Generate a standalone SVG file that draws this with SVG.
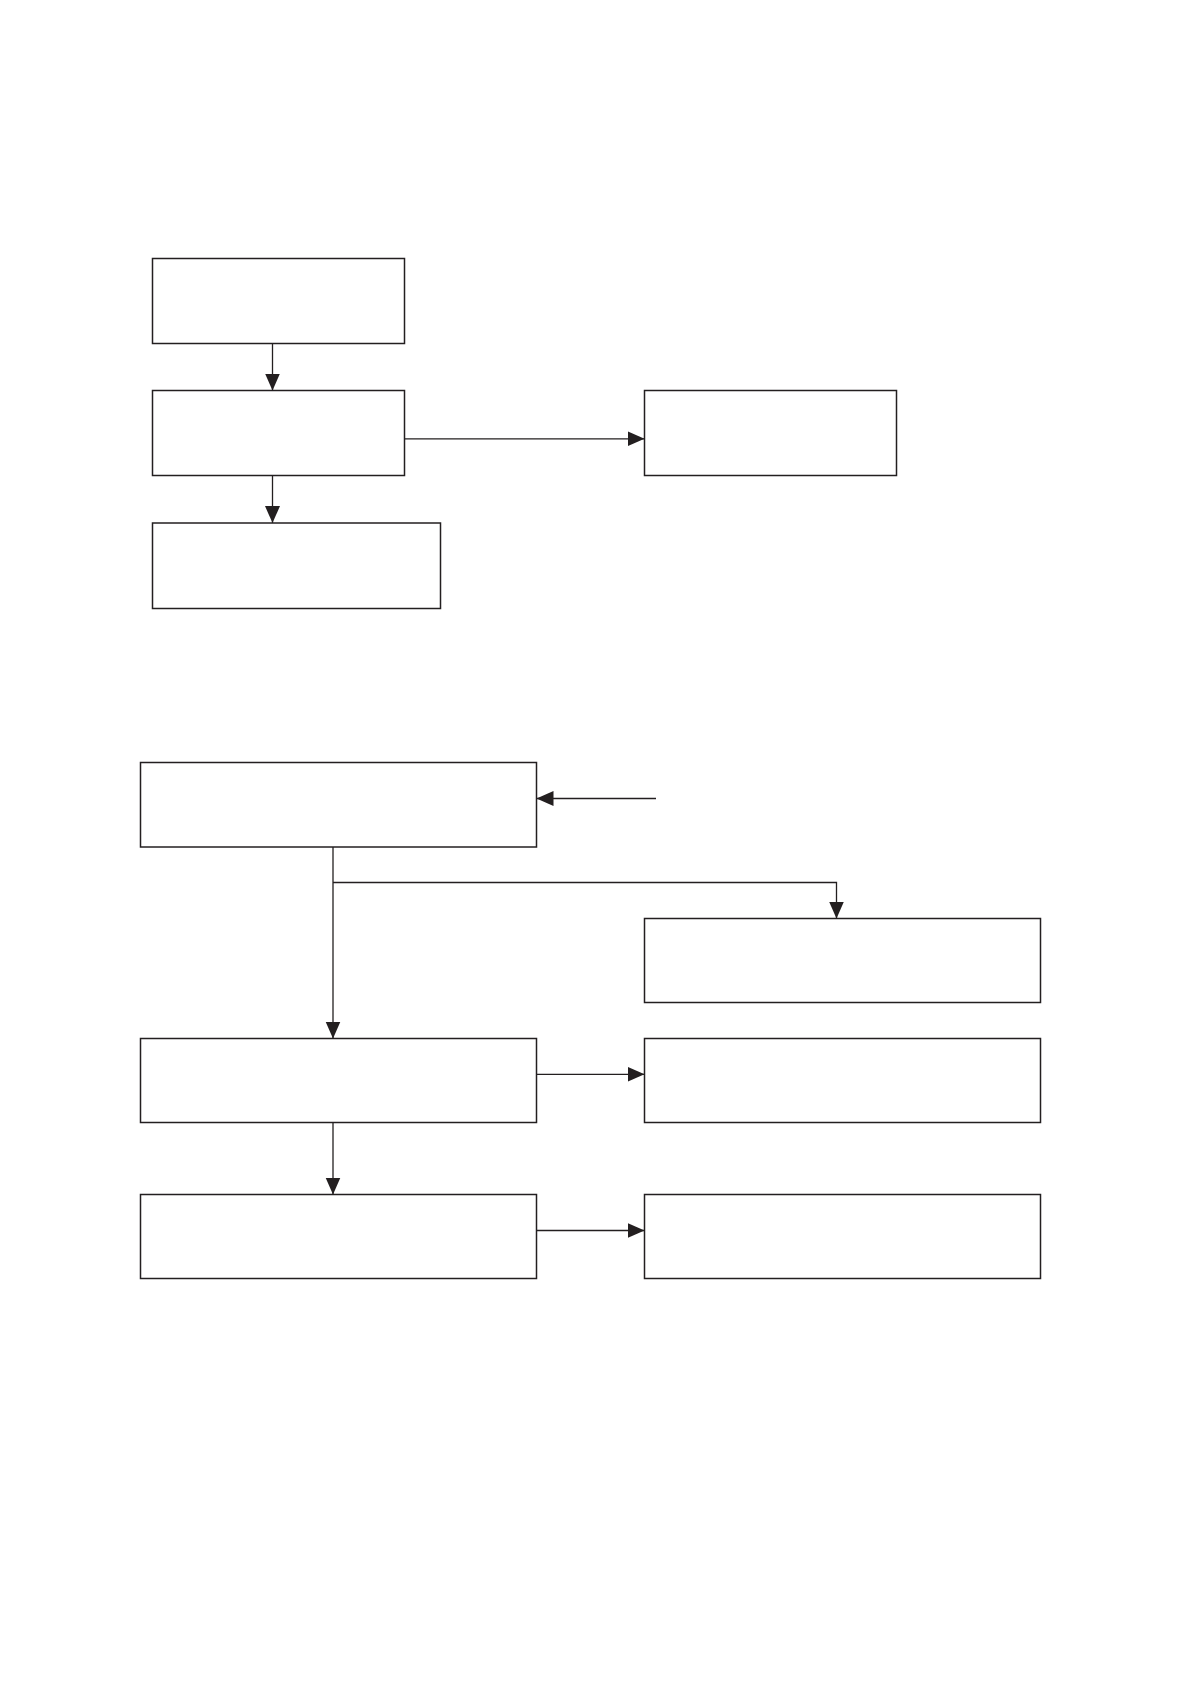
<svg xmlns="http://www.w3.org/2000/svg" width="1191" height="1685" viewBox="0 0 1191 1685">
<style>
.box{fill:#ffffff;stroke:#231f20;stroke-width:1.5}
.conn{fill:none;stroke:#231f20;stroke-width:1.3}
</style>
<defs>
<marker id="ah" markerUnits="userSpaceOnUse" markerWidth="18" markerHeight="16" refX="17" refY="7.5" orient="auto">
<path d="M0,0 L17,7.5 L0,15 Z" fill="#231f20"/>
</marker>
</defs>
<rect width="1191" height="1685" fill="#ffffff"/>
<g id="nodes">
<g id="nA"><rect class="box" x="152.5" y="258.5" width="252" height="85"/></g>
<g id="nB"><rect class="box" x="152.5" y="390.5" width="252" height="85"/></g>
<g id="nC"><rect class="box" x="644.5" y="390.5" width="252" height="85"/></g>
<g id="nD"><rect class="box" x="152.5" y="523" width="288" height="85.5"/></g>
<g id="nE"><rect class="box" x="140.5" y="762.5" width="396" height="84.5"/></g>
<g id="nF"><rect class="box" x="644.5" y="918.5" width="396" height="84"/></g>
<g id="nG"><rect class="box" x="140.5" y="1038.5" width="396" height="84"/></g>
<g id="nH"><rect class="box" x="644.5" y="1038.5" width="396" height="84"/></g>
<g id="nI"><rect class="box" x="140.5" y="1194.5" width="396" height="84"/></g>
<g id="nJ"><rect class="box" x="644.5" y="1194.5" width="396" height="84"/></g>
</g>
<g id="connectors">
<line class="conn" x1="272.5" y1="343.5" x2="272.5" y2="390.5" marker-end="url(#ah)"/>
<line class="conn" x1="272.5" y1="475.5" x2="272.5" y2="523" marker-end="url(#ah)"/>
<line class="conn" x1="404.5" y1="438.8" x2="644.5" y2="438.8" marker-end="url(#ah)"/>
<line class="conn" x1="656" y1="798.5" x2="536.5" y2="798.5" marker-end="url(#ah)"/>
<line class="conn" x1="333" y1="847" x2="333" y2="1038.5" marker-end="url(#ah)"/>
<polyline class="conn" points="333,882.5 836.5,882.5 836.5,918.5" marker-end="url(#ah)"/>
<line class="conn" x1="536.5" y1="1074.3" x2="644.5" y2="1074.3" marker-end="url(#ah)"/>
<line class="conn" x1="333" y1="1122.5" x2="333" y2="1194.5" marker-end="url(#ah)"/>
<line class="conn" x1="536.5" y1="1230.5" x2="644.5" y2="1230.5" marker-end="url(#ah)"/>
</g>
</svg>
